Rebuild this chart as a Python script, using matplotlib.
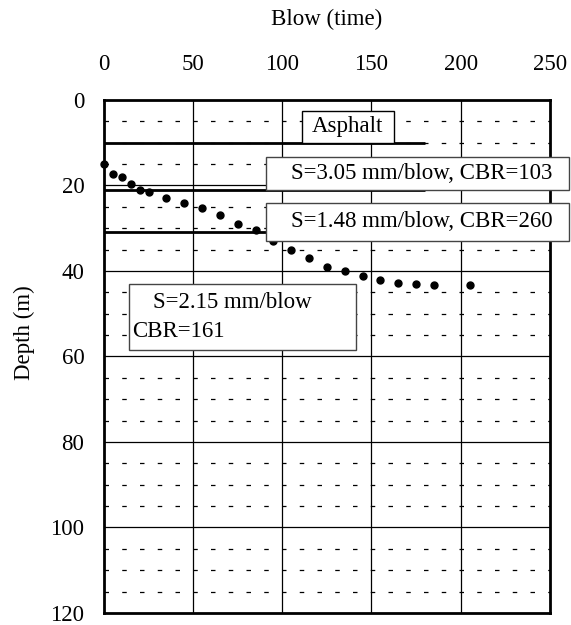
import matplotlib.pyplot as plt

plt.switch_backend('Agg')
plt.rcParams['font.family'] = ['Liberation Serif', 'DejaVu Serif']

# DCP readings: cumulative blows vs depth
blows = [0, 5, 10, 15, 20, 25, 35, 45, 55, 65, 75, 85, 95, 105, 115, 125,
         135, 145, 155, 165, 175, 185, 205]
depth = [14.9, 17.3, 18.1, 19.6, 21.0, 21.6, 23.0, 24.1, 25.4, 27.0, 29.0,
         30.5, 33.1, 35.2, 37.0, 39.1, 40.1, 41.2, 42.2, 42.8, 43.0, 43.4, 43.4]

# layer boundaries (depth) drawn as thick lines
layer_depths = [10, 21, 31]
layer_end = 180

x_ticks = [0, 50, 100, 150, 200, 250]
y_ticks = [0, 20, 40, 60, 80, 100, 120]

FS = 16.5

fig = plt.figure(figsize=(5.71, 6.25), dpi=100)
ax = fig.add_axes([0.182, 0.0192, 0.781, 0.821])

ax.set_xlim(0, 250)
ax.set_ylim(120, 0)

# minor dashed grid every 5
for d in range(5, 120, 5):
    if d % 20 != 0:
        ax.axhline(d, color='black', lw=0.9, ls=(0, (3.6, 10.6)), zorder=1)
# major grid
for d in y_ticks[1:-1]:
    ax.axhline(d, color='black', lw=0.9, zorder=1)
for b in x_ticks[1:-1]:
    ax.axvline(b, color='black', lw=0.9, zorder=1)

for d in layer_depths:
    ax.plot([0, layer_end], [d, d], color='black', lw=2, zorder=2,
            solid_capstyle='butt')

ax.plot(blows, depth, 'o', color='black', ms=5, zorder=5, clip_on=False)

# label boxes (drawn over the frame like in the original)
def box(x0, y0, x1, y1, ec):
    r = plt.Rectangle((x0, y0), x1 - x0, y1 - y0, facecolor='white',
                      edgecolor=ec, lw=1, zorder=9, clip_on=False)
    ax.add_patch(r)

box(110.8, 2.7, 162.7, 10, 'black')
ax.text(136.8, 6.3, 'Asphalt', ha='center', va='center', fontsize=FS, zorder=10)

box(90.6, 13.4, 261, 21, '#444444')
ax.text(178, 17.2, 'S=3.05 mm/blow, CBR=103', ha='center', va='center',
        fontsize=FS, zorder=10, clip_on=False)

box(90.6, 24.2, 261, 32.9, '#444444')
ax.text(178, 28.5, 'S=1.48 mm/blow, CBR=260', ha='center', va='center',
        fontsize=FS, zorder=10, clip_on=False)

box(14.2, 43.1, 141.3, 58.6, '#444444')
ax.text(72, 47.5, 'S=2.15 mm/blow', ha='center', va='center', fontsize=FS, zorder=10)
ax.text(16, 54.2, 'CBR=161', ha='left', va='center', fontsize=FS, zorder=10)

ax.xaxis.tick_top()
ax.xaxis.set_label_position('top')
ax.set_xticks(x_ticks)
ax.set_yticks(y_ticks)
ax.tick_params(axis='both', length=0, labelsize=FS)
ax.tick_params(axis='x', pad=18)
ax.tick_params(axis='y', pad=14)

ax.set_xlabel('Blow (time)', fontsize=FS)
ax.set_ylabel('Depth (m)', fontsize=FS)
ax.xaxis.set_label_coords(0.5, 1.145)
ax.yaxis.set_label_coords(-0.155, 0.546)

for s in ax.spines.values():
    s.set_linewidth(2)
    s.set_zorder(8)

fig.savefig('out.png', dpi=100)
